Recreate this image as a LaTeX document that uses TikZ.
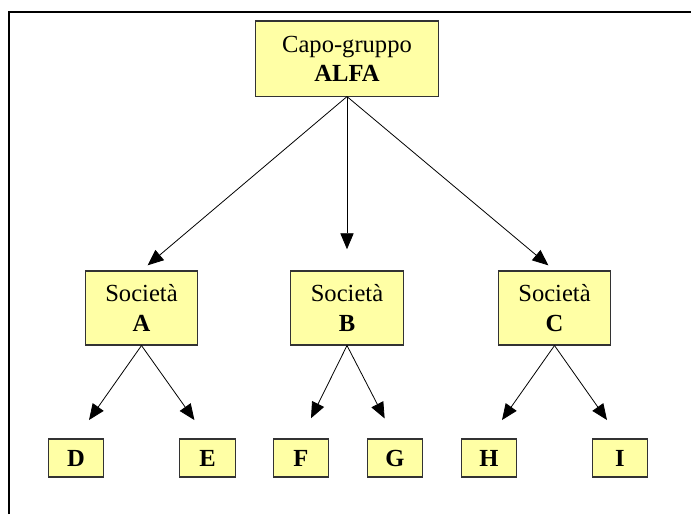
\documentclass[tikz,border=0pt]{standalone}
\usepackage{fontspec}
\setmainfont{Liberation Serif}
\usetikzlibrary{arrows.meta}
\definecolor{boxyellow}{RGB}{255,255,165}

\begin{document}
\begin{tikzpicture}[x=0.02646cm,y=-0.02646cm,
        >={Triangle[length=12pt,width=10pt]},
        box/.style={draw=black!80,fill=boxyellow,line width=0.8pt,align=center,inner sep=0pt,
            font=\fontsize{18.5}{22}\selectfont},
        headbox/.style={box,minimum width=137.8pt,minimum height=56.5pt},
        firmbox/.style={box,minimum width=85pt,minimum height=55.7pt},
        leafbox/.style={box,minimum width=42pt,minimum height=28.6pt,font=\fontsize{18.5}{22}\selectfont\bfseries},
        link/.style={->,line width=0.6pt}]
        \useasboundingbox (0,0) rectangle (691,514);
        \draw[line width=1.4pt] (9,514) -- (9,12) -- (691,12);
        % capo-gruppo
        \node (alfa) at (347,58.5) [headbox] {Capo-gruppo\\\textbf{ALFA}};
        % societa
        \node (socA) at (141.5,308) [firmbox] {Società\\\textbf{A}};
        \node (socB) at (347,308) [firmbox] {Società\\\textbf{B}};
        \node (socC) at (554.5,308) [firmbox] {Società\\\textbf{C}};
        % partecipate
        \node (d) at (76,458) [leafbox] {D};
        \node (e) at (207.5,458) [leafbox] {E};
        \node (f) at (301,458) [leafbox] {F};
        \node (g) at (395,458) [leafbox] {G};
        \node (h) at (489,458) [leafbox] {H};
        \node (i) at (620,458) [leafbox] {I};
        \draw[link,shorten >=6pt] (alfa.south) -- (socA.north);
        \draw[link,shorten >=16pt] (alfa.south) -- (socB.north);
        \draw[link,shorten >=6pt] (alfa.south) -- (socC.north);
        \draw[link,shorten >=17pt] (socA.south) -- (d.north);
        \draw[link,shorten >=17pt] (socA.south) -- (e.north);
        \draw[link,shorten >=17pt] (socB.south) -- (f.north);
        \draw[link,shorten >=17pt] (socB.south) -- (g.north);
        \draw[link,shorten >=17pt] (socC.south) -- (h.north);
        \draw[link,shorten >=17pt] (socC.south) -- (i.north);
    \end{tikzpicture}
\end{document}
